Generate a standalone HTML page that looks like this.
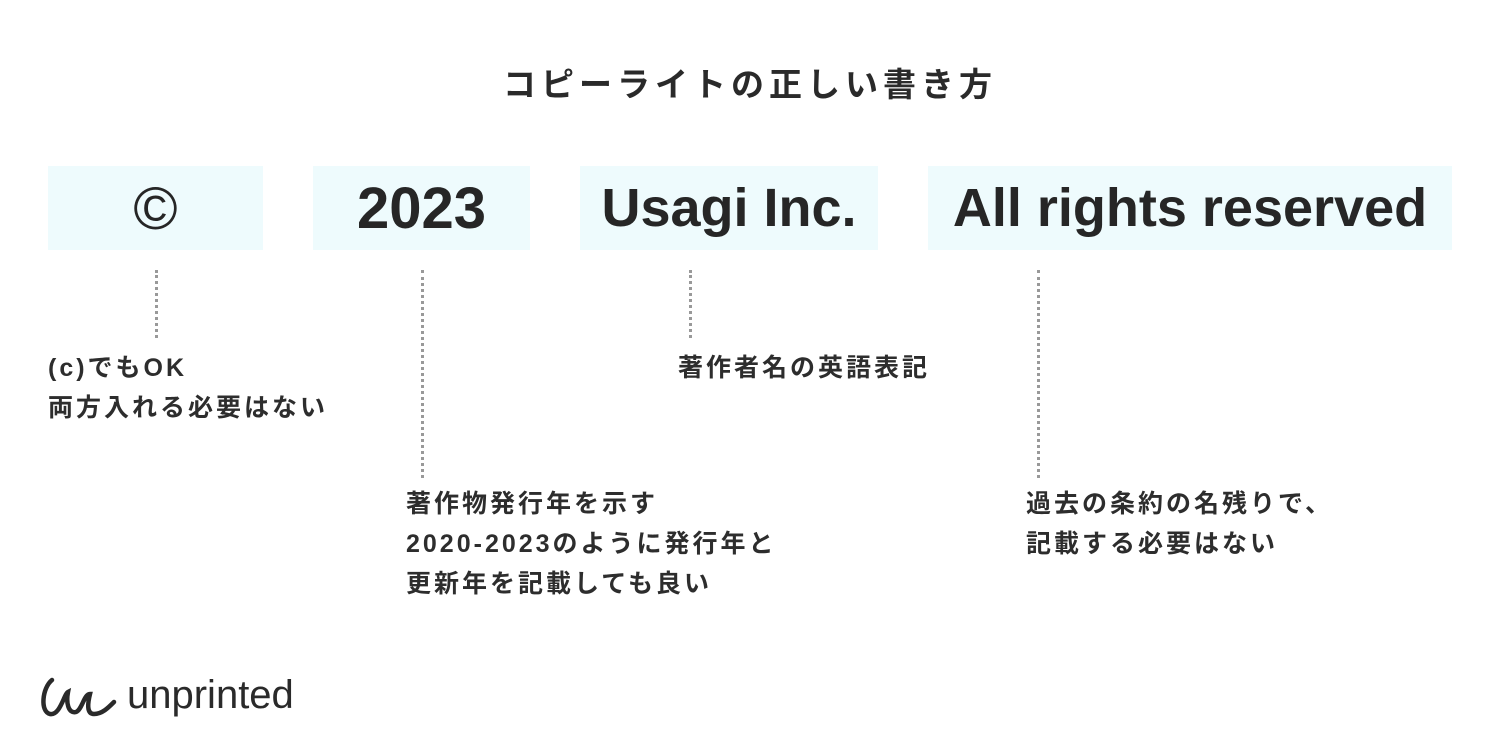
<!DOCTYPE html>
<html><head><meta charset="utf-8"><style>
body{margin:0;width:1500px;height:750px;background:#fff;position:relative;overflow:hidden;font-family:"Liberation Sans","Noto Sans CJK JP",sans-serif;color:#2a2a2a}
.t{position:absolute;white-space:nowrap}
.box{position:absolute;top:166px;height:84px;background:#eefbfd;display:flex;align-items:center;justify-content:center;font-size:54px;font-weight:bold;color:#262626}
.l{position:absolute;font-size:25px;font-weight:bold;line-height:40px;letter-spacing:3px;color:#2d2d2d;white-space:nowrap}
.d{position:absolute;width:0;border-left:3px dotted #999}
</style></head><body>
<div class="t" style="left:0;width:1500px;text-align:center;top:58px;font-size:33px;font-weight:bold;letter-spacing:5px">コピーライトの正しい書き方</div>
<div class="box" style="left:48px;width:215px;font-weight:normal;font-size:60px">©</div>
<div class="box" style="left:313px;width:217px;font-size:58px">2023</div>
<div class="box" style="left:580px;width:298px">Usagi Inc.</div>
<div class="box" style="left:928px;width:524px">All rights reserved</div>
<div class="d" style="left:155px;top:270px;height:68px"></div>
<div class="d" style="left:421px;top:270px;height:208px"></div>
<div class="d" style="left:689px;top:270px;height:68px"></div>
<div class="d" style="left:1037px;top:270px;height:208px"></div>
<div class="l" style="left:48px;top:348px">(c)でもOK<br>両方入れる必要はない</div>
<div class="l" style="left:678px;top:348px">著作者名の英語表記</div>
<div class="l" style="left:406px;top:484px">著作物発行年を示す<br>2020-2023のように発行年と<br>更新年を記載しても良い</div>
<div class="l" style="left:1026px;top:484px">過去の条約の名残りで、<br>記載する必要はない</div>
<svg style="position:absolute;left:38px;top:672px" width="84" height="50" viewBox="0 0 84 50"><path d="M14 8 C4 16,2 40,12 42 C22 44,26 22,30 20 C28 30,30 42,38 40 C44 38,46 22,52 22 C50 30,48 42,56 42 C64 42,70 36,76 30" fill="none" stroke="#2a2a2a" stroke-width="4.5" stroke-linecap="round"/></svg>
<div class="t" style="left:127px;top:673px;font-size:40px;color:#2a2a2a">unprinted</div>
</body></html>
